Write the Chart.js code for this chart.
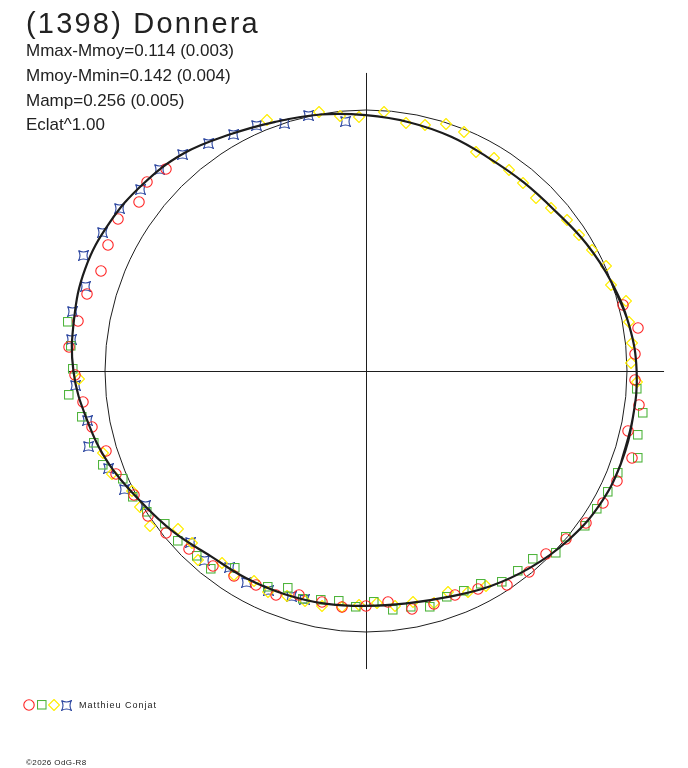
<!DOCTYPE html>
<html>
<head>
<meta charset="utf-8">
<title>(1398) Donnera</title>
<script src="https://cdn.jsdelivr.net/npm/chart.js@4.4.1/dist/chart.umd.min.js"></script>
<style>
  html, body { margin: 0; padding: 0; background: #fff; }
  #wrap { position: relative; width: 688px; height: 768px; overflow: hidden;
          font-family: "Liberation Sans", Arial, sans-serif; color: #222; }
  #chart { position: absolute; left: 0; top: 0; }
  .t { position: absolute; white-space: nowrap; line-height: 1; }
  .mk { position: absolute; }
</style>
</head>
<body>
<div id="wrap">
  <canvas id="chart" width="688" height="768"></canvas>
  <div class="t" style="left:26px; top:9px; font-size:29px; letter-spacing:2.2px;">(1398) Donnera</div>
  <div class="t" style="left:26px; top:42px; font-size:17px;">Mmax-Mmoy=0.114 (0.003)</div>
  <div class="t" style="left:26px; top:67px; font-size:17px;">Mmoy-Mmin=0.142 (0.004)</div>
  <div class="t" style="left:26px; top:92px; font-size:17px;">Mamp=0.256 (0.005)</div>
  <div class="t" style="left:26px; top:116px; font-size:17px;">Eclat^1.00</div>
  <div id="legend"></div>
  <div class="t" style="left:79px; top:701px; font-size:9px; letter-spacing:1px;">Matthieu Conjat</div>
  <div class="t" style="left:26px; top:759px; font-size:8px; letter-spacing:0.4px;">©2026 OdG-R8</div>
</div>
<script>
// polar light curve: angle in degrees (counter-clockwise from the right axis),
// radius = relative brightness (1 = mean, drawn as the thin circle)

// fitted curve
var curveAngle = [0, 10, 20, 30, 40, 50, 60, 70, 80, 90, 100, 110, 120, 130, 140, 150, 160, 170,
                  180, 190, 200, 210, 220, 230, 240, 250, 260, 270, 280, 290, 300, 310, 320, 330, 340, 350];
var curveFlux = [1.037, 1.023, 1.000, 0.975, 0.950, 0.942, 0.942, 0.955, 0.967, 0.980, 0.998, 1.016,
                 1.046, 1.088, 1.115, 1.135, 1.145, 1.136, 1.121, 1.085, 1.047, 0.998, 0.961, 0.926,
                 0.917, 0.910, 0.905, 0.900, 0.904, 0.921, 0.952, 0.982, 1.010, 1.031, 1.039, 1.038];

// session 1 (red circles)
var redAngle = [3.6, 8.9, 14.4, 134.8, 139.1, 143.3, 148.6, 153.9, 159.4, 164.6, 170.1, 175.4, 180.8,
                186.3, 191.6, 197.0, 202.3, 208.1, 213.7, 219.0, 225.2, 231.8, 237.3, 242.8, 248.0,
                253.4, 259.2, 264.3, 270.1, 275.5, 281.0, 286.3, 291.7, 297.2, 303.4, 309.0, 314.5,
                319.9, 325.4, 330.9, 336.4, 341.8, 347.2, 352.8, 358.1];
var redFlux = [1.033, 1.054, 1.015, 1.089, 1.108, 1.083, 1.115, 1.099, 1.085, 1.110, 1.119, 1.141, 1.115,
               1.090, 1.071, 1.043, 1.035, 1.008, 1.002, 0.985, 0.960, 0.949, 0.934, 0.922, 0.925,
               0.895, 0.902, 0.910, 0.900, 0.890, 0.929, 0.931, 0.924, 0.941, 0.982, 0.992, 0.984,
               1.001, 1.024, 1.041, 1.048, 1.072, 1.031, 1.054, 1.032];

// session 2 (green squares)
var greenAngle = [170.6, 175.1, 179.7, 184.6, 189.1, 194.8, 199.6, 204.0, 208.4, 212.8, 217.3, 222.1,
                  227.5, 232.0, 236.3, 245.6, 250.1, 254.6, 258.9, 263.3, 267.6, 271.9, 276.4, 280.8,
                  285.2, 289.6, 294.0, 298.3, 302.8, 307.3, 311.6, 316.1, 320.4, 324.8, 329.1, 333.5,
                  338.0, 342.3, 346.7, 351.3, 356.2];
var greenFlux = [1.156, 1.136, 1.121, 1.140, 1.103, 1.078, 1.071, 1.018, 1.013, 0.996, 0.968, 0.972,
                 0.961, 0.964, 0.905, 0.907, 0.883, 0.906, 0.894, 0.886, 0.904, 0.886, 0.921, 0.922,
                 0.938, 0.921, 0.922, 0.927, 0.960, 0.962, 0.965, 1.008, 0.995, 1.027, 1.030, 1.035,
                 1.040, 1.093, 1.069, 1.075, 1.039];

// session 3 (yellow diamonds)
var yellowAngle = [1.7, 6.1, 10.6, 15.1, 19.4, 23.7, 28.1, 32.6, 36.9, 41.3, 45.6, 50.0, 54.5, 58.9,
                   63.4, 67.7, 72.1, 76.5, 80.9, 86.0, 91.5, 95.8, 100.2, 111.6, 181.6, 197.4, 202.0,
                   207.1, 211.1, 215.6, 220.1, 224.7, 228.4, 233.0, 237.1, 241.9, 246.2, 250.6, 255.1,
                   259.3, 264.1, 268.4, 272.7, 277.0, 281.6, 286.4, 290.4, 294.8, 299.2, 357.7];
var yellowFlux = [1.016, 1.026, 1.025, 1.031, 0.994, 1.003, 0.983, 0.968, 0.964, 0.944, 0.930, 0.938,
                  0.946, 0.952, 0.939, 0.991, 0.993, 0.969, 0.961, 0.996, 0.975, 0.983, 1.007, 1.034,
                  1.099, 1.055, 1.051, 1.009, 1.011, 1.018, 0.941, 0.939, 0.968, 0.919, 0.931, 0.910,
                  0.927, 0.914, 0.911, 0.915, 0.908, 0.897, 0.889, 0.906, 0.905, 0.928, 0.905, 0.934,
                  0.943, 1.038];

// session 4 (blue stars)
var blueAngle = [94.7, 102.7, 108.3, 114.0, 119.3, 124.7, 130.2, 135.8, 141.1, 146.6, 152.3, 157.7,
                 163.3, 168.6, 173.9, 182.9, 190.0, 195.3, 200.7, 206.1, 211.4, 224.3, 229.5, 235.1,
                 240.5, 246.0, 251.8, 255.0];
var blueFlux = [0.958, 1.003, 1.000, 1.031, 1.040, 1.061, 1.088, 1.105, 1.110, 1.129, 1.140, 1.168,
                1.121, 1.146, 1.134, 1.116, 1.083, 1.101, 1.053, 1.029, 0.989, 0.942, 0.953, 0.917,
                0.930, 0.919, 0.910, 0.905];

var axisLimit = 1.142;   // axes run out to the maximum brightness

function toXY(angles, flux) {
    return angles.map(function (a, i) {
        var t = a * Math.PI / 180;
        return { x: flux[i] * Math.cos(t), y: flux[i] * Math.sin(t) };
    });
}

// closed fitted curve: wrap a few samples on each side so the spline joins smoothly
function closedCurve(angles, flux) {
    var n = angles.length, a = [], f = [];
    for (var i = -2; i < n + 3; i++) {
        var k = (i + n) % n;
        a.push(angles[k] + (i < 0 ? -360 : (i >= n ? 360 : 0)));
        f.push(flux[k]);
    }
    return toXY(a, f);
}

// marker images
function marker(size, draw) {
    var c = document.createElement('canvas');
    c.width = size; c.height = size;
    var g = c.getContext('2d');
    draw(g, size);
    return c;
}
function circleMk(color) {
    return marker(12, function (g) {
        g.strokeStyle = color; g.lineWidth = 1.1;
        g.beginPath(); g.arc(6, 6, 5.2, 0, Math.PI * 2); g.stroke();
    });
}
function squareMk(color) {
    return marker(10, function (g) {
        g.strokeStyle = color; g.lineWidth = 1.1;
        g.strokeRect(0.5, 0.5, 8.5, 8.5);
    });
}
function diamondMk(color) {
    return marker(12, function (g) {
        g.strokeStyle = color; g.lineWidth = 1.2;
        g.beginPath();
        g.moveTo(6, 0.5); g.lineTo(11.5, 6); g.lineTo(6, 11.5); g.lineTo(0.5, 6); g.closePath();
        g.stroke();
    });
}
function starMk(color) {
    return marker(11, function (g) {
        g.strokeStyle = color; g.lineWidth = 1.1;
        g.beginPath();
        g.moveTo(0.5, 0.5);
        g.quadraticCurveTo(5.5, 3.5, 10.5, 0.5);
        g.quadraticCurveTo(7.5, 5.5, 10.5, 10.5);
        g.quadraticCurveTo(5.5, 7.5, 0.5, 10.5);
        g.quadraticCurveTo(3.5, 5.5, 0.5, 0.5);
        g.stroke();
    });
}

var redColor = '#ff2424', greenColor = '#4fb43c', yellowColor = '#ffee00', blueColor = '#2c46a0';
var redMk = circleMk(redColor), greenMk = squareMk(greenColor),
    yellowMk = diamondMk(yellowColor), blueMk = starMk(blueColor);

function copyCanvas(src) {
    var c = document.createElement('canvas');
    c.width = src.width; c.height = src.height;
    c.getContext('2d').drawImage(src, 0, 0);
    return c;
}

// legend markers
var legend = document.getElementById('legend');
[[redMk, 29], [greenMk, 41.5], [yellowMk, 53.5], [blueMk, 66]].forEach(function (m) {
    var c = copyCanvas(m[0]);
    c.className = 'mk';
    c.style.left = Math.round(m[1] - c.width / 2) + 'px';
    c.style.top = Math.round(705 - c.height / 2) + 'px';
    legend.appendChild(c);
});

// mean circle and axes, drawn through the scales
var framePlugin = {
    id: 'frame',
    beforeDatasetsDraw: function (chart) {
        var xs = chart.scales.x, ys = chart.scales.y, ctx = chart.ctx;
        var cx = xs.getPixelForValue(0), cy = ys.getPixelForValue(0);
        ctx.save();
        ctx.strokeStyle = '#1e1e1e';
        ctx.lineWidth = 1;
        ctx.beginPath();
        ctx.moveTo(xs.getPixelForValue(-axisLimit), cy + 0.5);
        ctx.lineTo(xs.getPixelForValue(axisLimit), cy + 0.5);
        ctx.moveTo(cx + 0.5, ys.getPixelForValue(axisLimit));
        ctx.lineTo(cx + 0.5, ys.getPixelForValue(-axisLimit));
        ctx.stroke();
        ctx.beginPath();
        ctx.arc(cx, cy, xs.getPixelForValue(1) - cx, 0, Math.PI * 2);
        ctx.stroke();
        ctx.restore();
        ctx.imageSmoothingEnabled = false;   // keep the marker images crisp
    }
};

function pointSet(label, angles, flux, img) {
    return {
        label: label,
        data: toXY(angles, flux),
        showLine: false,
        pointStyle: img,
        pointRadius: 5,
        order: 1
    };
}

var unit = 261;   // pixels per brightness unit
var ctx = document.getElementById('chart').getContext('2d');
var chart = new Chart(ctx, {
    type: 'scatter',
    data: {
        datasets: [
            pointSet('red', redAngle, redFlux, redMk),
            pointSet('green', greenAngle, greenFlux, greenMk),
            pointSet('yellow', yellowAngle, yellowFlux, yellowMk),
            pointSet('blue', blueAngle, blueFlux, blueMk),
            {
                label: 'fit',
                data: closedCurve(curveAngle, curveFlux),
                showLine: true,
                borderColor: '#1c1c1c',
                borderWidth: 2.2,
                tension: 0.4,
                pointRadius: 0,
                order: 0
            }
        ]
    },
    options: {
        responsive: false,
        animation: false,
        devicePixelRatio: 1,
        layout: { padding: 0, autoPadding: false },
        scales: {
            x: { type: 'linear', display: false, min: -366 / unit, max: 322 / unit },
            y: { type: 'linear', display: false, min: -397 / unit, max: 371 / unit }
        },
        plugins: {
            legend: { display: false },
            tooltip: { enabled: false }
        }
    },
    plugins: [framePlugin]
});
</script>
</body>
</html>
